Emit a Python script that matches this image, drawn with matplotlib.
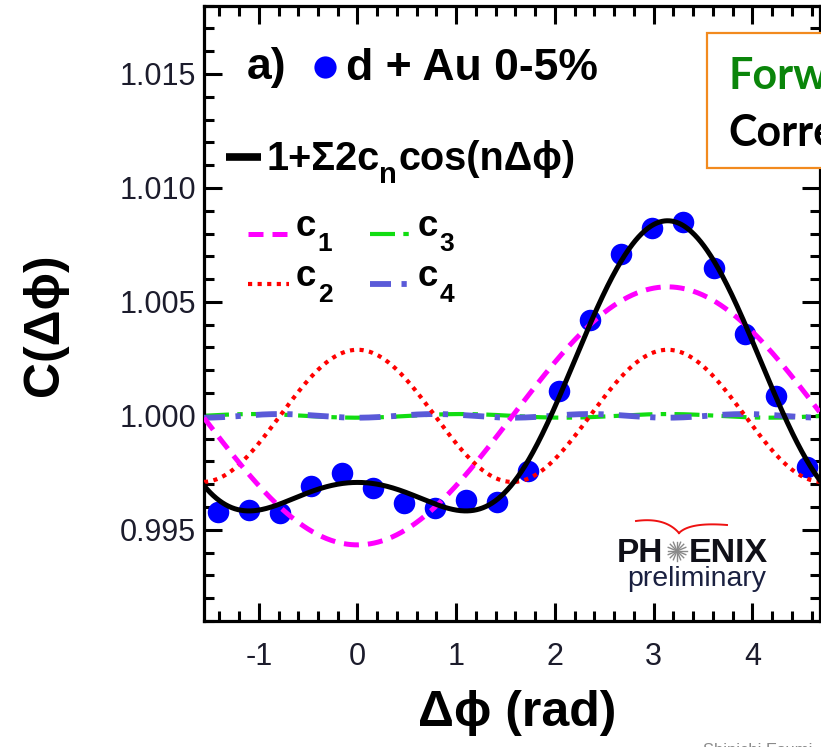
import numpy as np
import matplotlib
matplotlib.use("Agg")
import matplotlib.pyplot as plt
from matplotlib.lines import Line2D
from matplotlib.patches import Rectangle
from matplotlib.ticker import MultipleLocator, FixedLocator

# ---------------- data ----------------
dphi = [-1.414, -1.100, -0.785, -0.471, -0.157, 0.157, 0.471, 0.785, 1.100, 1.414,
        1.728, 2.042, 2.356, 2.670, 2.985, 3.299, 3.613, 3.927, 4.241, 4.555]
corr = [0.99580, 0.99588, 0.99573, 0.99693, 0.99749, 0.99683, 0.99617, 0.99595, 0.99629, 0.99620,
        0.99756, 1.00107, 1.00421, 1.00711, 1.00823, 1.00852, 1.00648, 1.00360, 1.00089, 0.99775]
harm_n = [1, 2, 3, 4]
harm_c = [-0.00283, 0.00145, -0.00004, -0.00004]
harm_labels = ["1", "2", "3", "4"]
xticks = [-1, 0, 1, 2, 3, 4]
xtick_labels = ["-1", "0", "1", "2", "3", "4"]
yticks = [0.995, 1.000, 1.005, 1.010, 1.015]
ytick_labels = ["0.995", "1.000", "1.005", "1.010", "1.015"]
x_range = (-1.555, 4.681)
y_range = (0.991, 1.018)

# ---------------- styles ----------------
SANS = ["Liberation Sans", "DejaVu Sans"]
styles = {
    1: dict(color="#ff00ff", lw=3.6, dashes=(3.0, 1.8), dash_capstyle="butt", zorder=5),
    2: dict(color="#ff0000", lw=3.0, dashes=(1.0, 1.3), dash_capstyle="butt", zorder=4),
    3: dict(color="#11dd11", lw=3.0, dashes=(6.0, 2.0, 1.3, 2.0), dash_capstyle="butt", zorder=2.5),
    4: dict(color="#5a5ad8", lw=4.2, dashes=(3.6, 1.8, 0.9, 2.6), dash_capstyle="butt", zorder=3),
}

W, H = 821, 747
fig = plt.figure(figsize=(W / 100, H / 100), dpi=100)
fig.patch.set_facecolor("white")


def fx(px):
    return px / W


def fy(py):
    return 1 - py / H


ax = fig.add_axes([fx(204), fy(621), (819.5 - 204) / W, (621 - 5.6) / H])
ax.set_xlim(*x_range)
ax.set_ylim(*y_range)

# curves
xg = np.linspace(x_range[0], x_range[1], 800)
total = np.ones_like(xg)
for n, c in zip(harm_n, harm_c):
    comp = 1 + 2 * c * np.cos(n * xg)
    total = total + 2 * c * np.cos(n * xg)
    ax.plot(xg, comp, **styles[n])
ax.plot(dphi, corr, "o", color="#0000ff", ms=15.5, mec="none", zorder=2, clip_on=False)
ax.plot(xg, total, color="black", lw=3.6, zorder=6)

# axes styling
for sp in ax.spines.values():
    sp.set_linewidth(2.3)
ax.xaxis.set_major_locator(FixedLocator(xticks))
ax.set_xticklabels(xtick_labels)
ax.xaxis.set_minor_locator(MultipleLocator(0.2))
ax.yaxis.set_major_locator(FixedLocator(yticks))
ax.set_yticklabels(ytick_labels)
ax.yaxis.set_minor_locator(MultipleLocator(0.001))
ax.tick_params(which="both", direction="in", top=True, right=True, width=2.2, color="black")
ax.tick_params(which="major", length=13)
ax.tick_params(which="minor", length=7)
ax.tick_params(axis="x", which="major", pad=15, labelsize=22, labelcolor="#1c1c2c")
ax.tick_params(axis="y", which="major", pad=5.5, labelsize=22, labelcolor="#1c1c2c")
for lab in ax.get_xticklabels() + ax.get_yticklabels():
    lab.set_family(SANS)

# axis titles
fig.text(fx(45), fy(325), "C(Δϕ)", rotation=90, ha="center", va="center",
         fontsize=36, fontweight="bold", family=SANS)
fig.text(fx(517), fy(713), "Δϕ (rad)", ha="center", va="center",
         fontsize=36, fontweight="bold", family=SANS)

# ---------------- legend-like annotations ----------------
fig.text(fx(247), fy(68), "a)", ha="left", va="center", fontsize=32,
         fontweight="bold", family=SANS)
fig.add_artist(Line2D([fx(325)], [fy(67)], marker="o", ms=16, color="#0000ff",
                      mec="none", transform=fig.transFigure))
fig.text(fx(346), fy(68), "d + Au 0-5%", ha="left", va="center", fontsize=32,
         fontweight="bold", family=SANS)

# formula line
fig.add_artist(Line2D([fx(226), fx(261)], [fy(157), fy(157)], color="black", lw=5.5,
                      solid_capstyle="butt", transform=fig.transFigure))
t1 = fig.text(fx(266), fy(170), "1+Σ2c", ha="left", va="baseline", fontsize=28.5,
              fontweight="bold", family=SANS)
t2 = ax.annotate("n", xy=(1, 0), xycoords=t1, xytext=(0, -8), textcoords="offset points",
                 ha="left", va="bottom", fontsize=21, fontweight="bold", family=SANS,
                 annotation_clip=False)
t3 = ax.annotate("cos(nΔϕ)", xy=(1, 0), xycoords=(t2, t1), xytext=(1, 0),
                 textcoords="offset points", ha="left", va="bottom", fontsize=28.5,
                 fontweight="bold", family=SANS, annotation_clip=False)

# c_n entries
entry_pos = {1: (248, 234), 2: (248, 284), 3: (370, 234), 4: (370, 284)}
for n, lab in zip(harm_n, harm_labels):
    px, py = entry_pos[n]
    st = dict(styles[n])
    st.pop("zorder")
    fig.add_artist(Line2D([fx(px), fx(px + 41)], [fy(py), fy(py)], transform=fig.transFigure, **st))
    tc = fig.text(fx(px + 48), fy(py + 2), "c", ha="left", va="baseline", fontsize=26.5,
                  fontweight="bold", family=SANS)
    ax.annotate(lab, xy=(1, 0), xycoords=tc, xytext=(1, -9), textcoords="offset points",
                ha="left", va="bottom", fontsize=19, fontweight="bold", family=SANS,
                annotation_clip=False)

# ---------------- PHENIX logo ----------------
fig.text(fx(663), fy(562), "PH", ha="right", va="baseline", fontsize=24, fontweight="bold",
         family=SANS, color="#101018")
fig.text(fx(689), fy(562), "ENIX", ha="left", va="baseline", fontsize=24.5, fontweight="bold",
         family=SANS, color="#101018")
cx, cy, r = 677, 551, 9.5
for k in range(16):
    a = np.pi * k / 8
    fig.add_artist(Line2D([fx(cx), fx(cx + r * np.cos(a))], [fy(cy), fy(cy - r * np.sin(a))],
                          color="#8a8a8a", lw=1.0, transform=fig.transFigure))
tt = np.linspace(0, 1, 30)


def bez(p0, p1, p2):
    xs = (1 - tt) ** 2 * p0[0] + 2 * (1 - tt) * tt * p1[0] + tt ** 2 * p2[0]
    ys = (1 - tt) ** 2 * p0[1] + 2 * (1 - tt) * tt * p1[1] + tt ** 2 * p2[1]
    return xs, ys


for p0, p1, p2 in [((636, 521), (665, 517), (679, 533)), ((679, 533), (690, 522), (727, 525))]:
    xs, ys = bez(p0, p1, p2)
    fig.add_artist(Line2D(fx(xs), fy(ys), color="#ee1111", lw=1.4, transform=fig.transFigure))
fig.text(fx(697), fy(586), "preliminary", ha="center", va="baseline", fontsize=20.5,
         family=SANS, color="#1a2040")

# ---------------- orange box (cut off at right) ----------------
fig.add_artist(Rectangle((fx(707), fy(168)), fx(900) - fx(707), fy(33) - fy(168),
                         transform=fig.transFigure, facecolor="white", edgecolor="#f28a1e",
                         lw=1.6, zorder=10))
BOXF = ["Lato", "DejaVu Sans"]
fig.text(fx(728), fy(89), "Forward", ha="left", va="baseline", fontsize=31, fontweight="bold",
         family=BOXF, color="#0a850a", zorder=11)
fig.text(fx(728), fy(146), "Correlations", ha="left", va="baseline", fontsize=31,
         fontweight="bold", family=BOXF, color="black", zorder=11)

# footer text (cut off at bottom)
fig.text(fx(703), fy(743), "Shinichi Esumi", ha="left", va="top", fontsize=12,
         family=SANS, color="#8a8a8a")

fig.savefig("out.png", dpi=100)
